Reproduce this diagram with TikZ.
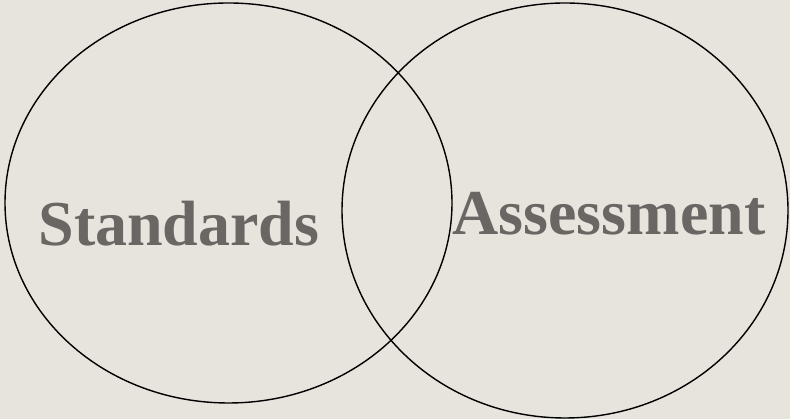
\documentclass[tikz,border=0pt]{standalone}
\usepackage{fontspec}
\setmainfont{Liberation Serif}
\usepackage{tikz}
\usetikzlibrary{positioning,calc}

\definecolor{paper}{HTML}{E7E3DD}
\definecolor{labelgray}{HTML}{6A6664}

\begin{document}
\begin{tikzpicture}[x=1pt,y=1pt]
			\begin{scope}
				\fill[paper] (0,0) rectangle (790,419);
				\useasboundingbox (0,0) rectangle (790,419);
				\coordinate (L) at (228.5,216);
				\coordinate (R) at (565,208.5);
				
				\draw[line width=1.4pt] (L) ellipse (223.5 and 200);
				\draw[line width=1.4pt] (R) ellipse (223 and 207.5);
				
				\node[anchor=base,text=labelgray,font=\fontsize{64}{70}\selectfont\bfseries] (std) at (179,173) {Standards}; 
				\node[anchor=base,text=labelgray,font=\fontsize{64}{70}\selectfont\bfseries] (asm) at (609,184) {Assessment}; 
			\end{scope}
		\end{tikzpicture}
\end{document}
